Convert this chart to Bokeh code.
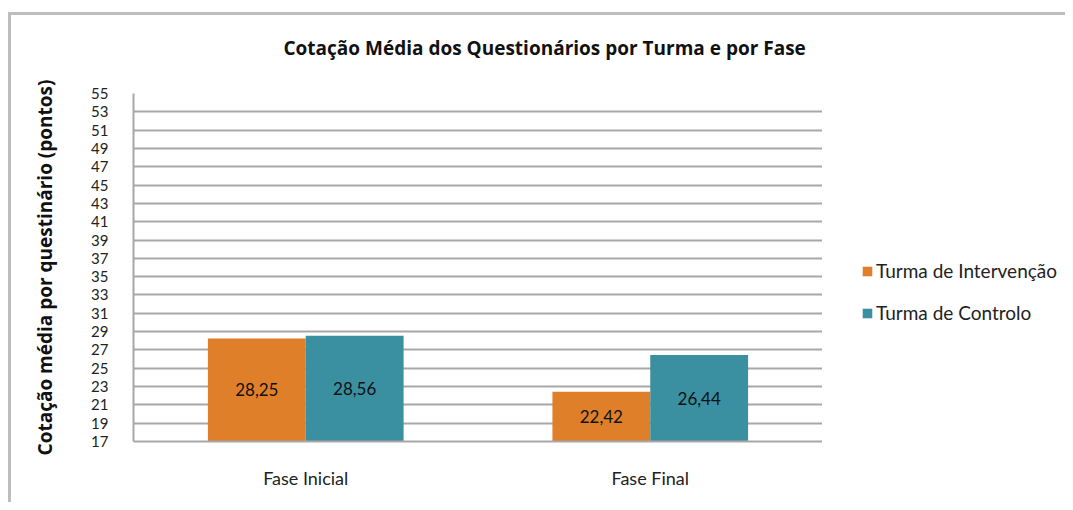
from bokeh.plotting import figure
from bokeh.models import (ColumnDataSource, FactorRange, FixedTicker, Legend, LegendItem,
                          InlineStyleSheet)
from bokeh.layouts import row
from bokeh.transform import dodge
from bokeh.core.properties import value
from bokeh.embed import file_html
from bokeh.resources import INLINE

phases = ["Fase Inicial", "Fase Final"]
series_names = ["Turma de Intervenção", "Turma de Controlo"]
intervencao = [28.25, 22.42]
controlo = [28.56, 26.44]
y_ticks = list(range(17, 56, 2))
y_min, y_max = 17, 55

colors = ["#E07F2A", "#3A8FA1"]
FONT = "Lato"
BOLD_FONT = "Open Sans"

def fmt(v):
    return f"{v:.2f}".replace(".", ",")

src = ColumnDataSource(dict(
    phase=phases,
    intervencao=intervencao,
    controlo=controlo,
    intervencao_mid=[(y_min + v) / 2 for v in intervencao],
    controlo_mid=[(y_min + v) / 2 for v in controlo],
    intervencao_lbl=[fmt(v) for v in intervencao],
    controlo_lbl=[fmt(v) for v in controlo],
))

p = figure(width=822, height=502, x_range=FactorRange(*phases), y_range=(y_min, y_max),
           output_backend="svg", toolbar_location=None,
           min_border_left=133, min_border_right=0, min_border_top=93, min_border_bottom=61)

p.title.text = "Cotação Média dos Questionários por Turma e por Fase"
p.title.align = "left"
p.title.offset = 150
p.title.text_font = BOLD_FONT
p.title.text_font_size = "19px"
p.title.text_font_style = "bold"
p.title.text_color = "#111111"
p.title.standoff = 65

p.outline_line_color = None
p.xgrid.grid_line_color = None
p.ygrid.grid_line_color = "#a8a8a8"
p.ygrid.grid_line_width = 2
p.yaxis.ticker = FixedTicker(ticks=y_ticks)

for ax in (p.xaxis, p.yaxis):
    ax.axis_line_color = "#a8a8a8"
    ax.axis_line_width = 2
    ax.major_tick_line_color = None
    ax.major_tick_out = 0
    ax.major_tick_in = 0
    ax.minor_tick_line_color = None
    ax.minor_tick_out = 0
    ax.major_label_text_font = FONT
    ax.major_label_text_color = "#222222"

p.yaxis.major_label_text_font_size = "15px"
p.yaxis.major_label_standoff = 25
p.xaxis.major_label_text_font_size = "18px"
p.xaxis.major_label_standoff = 25
p.yaxis.axis_label = "Cotação média por questinário (pontos)"
p.yaxis.axis_label_text_font = BOLD_FONT
p.yaxis.axis_label_text_font_size = "19px"
p.yaxis.axis_label_text_font_style = "bold"
p.yaxis.axis_label_text_color = "#111111"
p.yaxis.axis_label_standoff = 30

bw = 0.284
r1 = p.vbar(x=dodge("phase", -bw / 2, range=p.x_range), top="intervencao", bottom=y_min,
            width=bw, source=src, fill_color=colors[0], line_color=None)
r2 = p.vbar(x=dodge("phase", bw / 2, range=p.x_range), top="controlo", bottom=y_min,
            width=bw, source=src, fill_color=colors[1], line_color=None)

for key, off in (("intervencao", -bw / 2), ("controlo", bw / 2)):
    p.text(x=dodge("phase", off, range=p.x_range), y=key + "_mid", text=key + "_lbl",
           source=src, text_align="center", text_baseline="middle",
           text_font=value(FONT), text_font_size="17px", text_color="#111111")

# legend panel to the right of the chart (swatch renderers sit outside the visible range)
p2 = figure(width=243, height=502, x_range=(0, 1), y_range=(0, 1),
            output_backend="svg", toolbar_location=None,
            x_axis_location=None, y_axis_location=None,
            min_border_left=0, min_border_right=0, min_border_top=0, min_border_bottom=0)
p2.grid.grid_line_color = None
p2.outline_line_color = None
l1 = p2.vbar(x=[5], top=[6], bottom=[5], width=0.1, fill_color=colors[0], line_color=None)
l2 = p2.vbar(x=[5], top=[6], bottom=[5], width=0.1, fill_color=colors[1], line_color=None)

legend = Legend(items=[LegendItem(label=series_names[0], renderers=[l1]),
                       LegendItem(label=series_names[1], renderers=[l2])],
                location=(39, 117), orientation="vertical",
                glyph_width=12, glyph_height=12, label_height=20, spacing=19,
                padding=0, margin=0, label_standoff=3,
                label_text_font=FONT, label_text_font_size="19px", label_text_color="#222222",
                border_line_color=None, background_fill_alpha=0)
p2.add_layout(legend, "center")

layout = row(p, p2, spacing=0)

css = InlineStyleSheet(css="""
:host { position: relative; }
:host::after {
  content: '';
  position: absolute;
  left: 8px; top: 12px; right: 0px; bottom: 0px;
  border-top: 3px solid #bdbdbd;
  border-left: 3px solid #bdbdbd;
  pointer-events: none;
  z-index: 10;
}
""")
layout.stylesheets = [css]

open("out.html", "w").write(file_html(layout, INLINE))
